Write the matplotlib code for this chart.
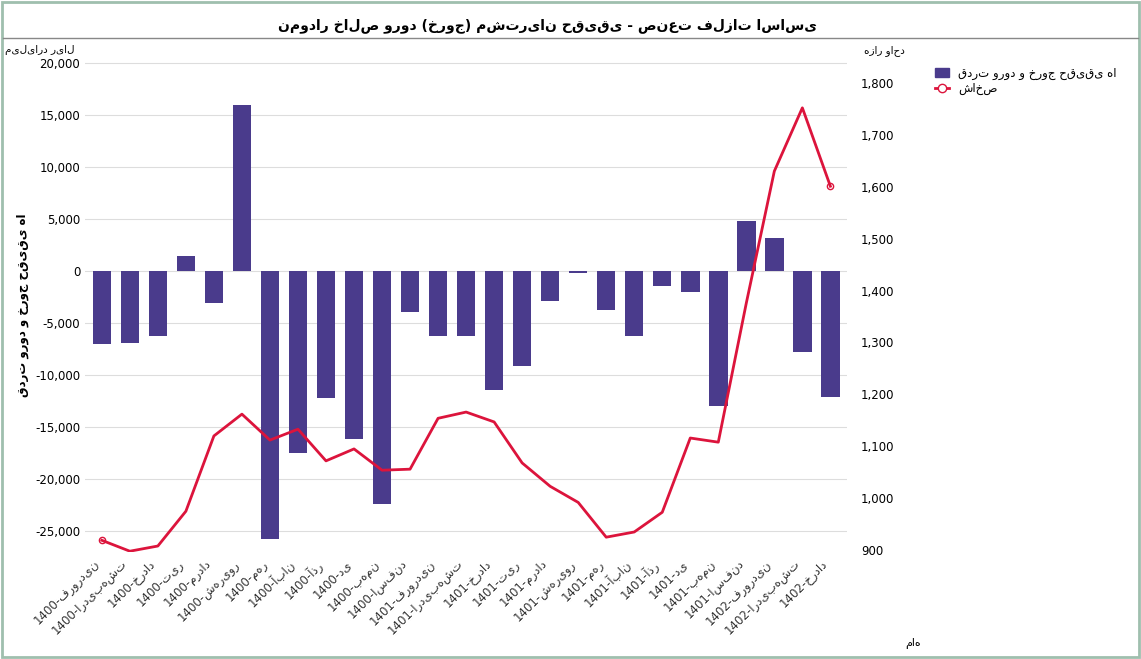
import matplotlib
matplotlib.use("Agg")
import matplotlib.pyplot as plt
from matplotlib.ticker import FuncFormatter, MultipleLocator

months = ["فروردین","اردیبهشت","خرداد","تیر","مرداد","شهریور","مهر","آبان","آذر","دی","بهمن","اسفند"]
categories = ["1400-"+m for m in months] + ["1401-"+m for m in months] + ["1402-"+m for m in months[:3]]
flow = [-7000,-6900,-6200,1500,-3000,16000,-25700,-17500,-12200,-16100,-22400,-3900,
        -6200,-6200,-11400,-9100,-2900,-200,-3700,-6200,-1400,-2000,-12900,4800,3200,-7800,-12100]
index = [919,898,908,975,1120,1162,1112,1133,1072,1095,1054,1056,
         1154,1166,1147,1068,1023,992,925,935,973,1116,1108,1376,1630,1752,1601]

plt.rcParams['font.family'] = ['DejaVu Sans']
fig = plt.figure(figsize=(11.41,6.59), dpi=100)
fig.patch.set_facecolor('white')
ax = fig.add_axes([0.0745, 0.162, 0.668, 0.750])
x = range(len(categories))
ax.bar(x, flow, width=0.66, color='#4a3b8c', zorder=2)
ax.set_ylim(-27000, 20500)
ax.yaxis.set_major_locator(MultipleLocator(5000))
ax.yaxis.set_major_formatter(FuncFormatter(lambda v,p: f"{int(v):,}"))
ax.grid(axis='y', color='#dddddd', lw=0.8, zorder=0)
ax.set_xlim(-0.6, len(categories)-0.4)
ax.set_xticks(list(x))
ax.set_xticklabels(categories, rotation=45, ha='right', fontsize=7.5, color='#333333')
ax.tick_params(axis='both', length=0, labelsize=8.5)
for s in ax.spines.values(): s.set_visible(False)
ax.set_ylabel('قدرت ورود و خروج حقیقی ها', fontsize=8.5, fontweight='bold')

ax2 = ax.twinx()
ax2.plot(x, index, color='#dc143c', lw=2, zorder=3)
ax2.plot([x[0], x[-1]], [index[0], index[-1]], 'o', ms=4.5, mfc='white', mec='#dc143c', lw=0)
ax2.set_ylim(896, 1848)
ax2.yaxis.set_major_locator(MultipleLocator(100))
ax2.yaxis.set_major_formatter(FuncFormatter(lambda v,p: f"{int(v):,}"))
ax2.tick_params(length=0, labelsize=8.5, pad=10)
for s in ax2.spines.values(): s.set_visible(False)

fig.add_artist(plt.Line2D([0.003,0.997],[0.942,0.942], transform=fig.transFigure, color='#888888', lw=1))
fig.text(0.48, 0.955, 'نمودار خالص ورود (خروج) مشتریان حقیقی - صنعت فلزات اساسی', ha='center', fontsize=10, fontweight='bold')
fig.text(0.035, 0.92, 'میلیارد ریال', fontsize=7.5, ha='center')
fig.text(0.775, 0.92, 'هزار واحد', fontsize=7.5, ha='center')
fig.text(0.8, 0.02, 'ماه', fontsize=8, ha='center')
from matplotlib.patches import Rectangle
from matplotlib.lines import Line2D
h = [Rectangle((0,0),1,1,color='#4a3b8c'), Line2D([],[],color='#dc143c',lw=2,marker='o',mfc='white')]
fig.legend(h, ['قدرت ورود و خروج حقیقی ها','شاخص'], loc='upper left', bbox_to_anchor=(0.81,0.915), frameon=False, fontsize=8.5, handlelength=1.2, labelspacing=0.2)
fig.add_artist(Rectangle((0.002,0.003),0.996,0.994, transform=fig.transFigure, fill=False, ec='#9fbfae', lw=2))
fig.savefig('out.png', dpi=100)
